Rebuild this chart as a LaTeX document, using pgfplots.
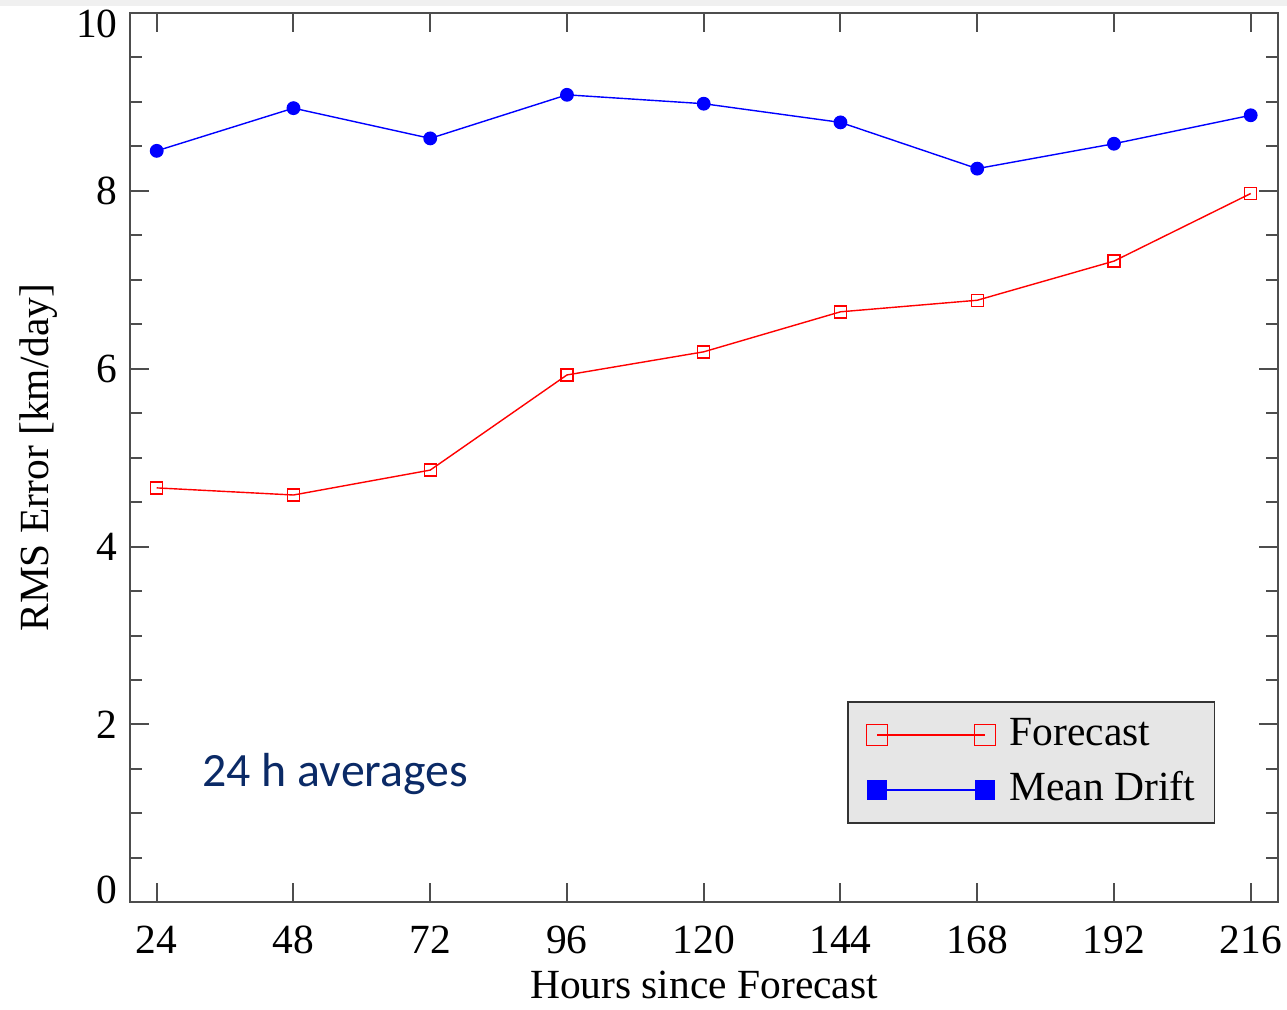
\documentclass[border=0pt]{standalone}
\usepackage{pgfplots}
\pgfplotsset{compat=1.18}
\usepackage{fontspec}
\setmainfont{Liberation Serif}
\newfontfamily\carlito{Carlito}
\definecolor{navy}{HTML}{0B2A66}
\definecolor{lgray}{HTML}{E6E6E6}
\definecolor{framegray}{HTML}{4D4D4D}
\definecolor{bandgray}{HTML}{F0F0F0}
\begin{document}
\begin{tikzpicture}
\fill[white] (-13mm,-10.67mm) rectangle (115.7mm,90.23mm);
\fill[bandgray] (-13mm,89.66mm) rectangle (115.7mm,90.23mm);
\begin{axis}[
  at={(0,0)}, anchor=south west,
  scale only axis, width=114.8mm, height=88.93mm,
  xmin=19.31, xmax=220.79, ymin=0, ymax=10,
  xtick={24,48,72,96,120,144,168,192,216},
  xticklabels={24,48,72,96,120,144,168,192,216},
  ytick={0,2,4,6,8,10},
  yticklabels={\raisebox{1.2mm}[\height][\depth]{0},2,4,6,8,\raisebox{-1.1mm}[\height][\depth]{10}},
  minor y tick num=3,
  tick align=inside,
  major tick length=1.9mm, minor tick length=1.2mm,
  axis line style={draw=framegray, line width=0.22mm},
  every tick/.style={draw=framegray, line width=0.2mm},
  tick label style={font=\fontsize{11.8}{14}\selectfont},
  xticklabel style={yshift=-1.1mm},
  label style={font=\fontsize{11.8}{14}\selectfont},
  xlabel={Hours since Forecast},
  ylabel={RMS Error [km/day]},
  xlabel style={at={(axis description cs:0.5,-0.1076)}, anchor=base},
  ylabel style={at={(axis description cs:-0.0714,0.5)}, anchor=base},
  legend image code/.code={\path (0mm,0mm); \draw[#1] plot coordinates {(1.5mm,0mm) (12.3mm,0mm)};},
  legend cell align=left,
  legend style={at={(axis description cs:0.6246,0.2261)}, anchor=north west,
    draw=black!80, line width=0.5pt, fill=lgray,
    inner xsep=1.35mm, inner ysep=1.15mm, row sep=1.24mm, column sep=0.8mm,
    nodes={inner xsep=0.6mm, inner ysep=0.3mm, text height=2.9mm, text depth=0.76mm,
      font=\fontsize{11.8}{14}\selectfont}},
]
\addlegendimage{color=red, line width=0.4pt, mark=square, mark size=1.05mm, mark options={solid, line width=0.4pt}}
\addlegendentry{Forecast}
\addlegendimage{color=blue, line width=0.4pt, mark=square*, mark size=0.95mm, mark options={solid}}
\addlegendentry{Mean Drift}

\addplot[forget plot, color=red, line width=0.4pt, mark=square, mark size=0.6mm, mark options={solid, line width=0.4pt}]
coordinates {(24,4.66) (48,4.58) (72,4.86) (96,5.93) (120,6.19) (144,6.64) (168,6.77) (192,7.21) (216,7.97)};
\addplot[forget plot, color=blue, line width=0.4pt, mark=*, mark size=0.62mm, mark options={solid}]
coordinates {(24,8.45) (48,8.93) (72,8.59) (96,9.08) (120,8.98) (144,8.77) (168,8.25) (192,8.53) (216,8.85)};

\node[anchor=base west, inner sep=0pt, text=navy, font=\carlito\fontsize{13.6}{16}\selectfont]
  at (axis description cs:0.0627,0.1297) {24 h averages};
\end{axis}
\pgfresetboundingbox
\path[use as bounding box] (-13mm,-10.67mm) rectangle (115.7mm,90.23mm);
\end{tikzpicture}
\end{document}
